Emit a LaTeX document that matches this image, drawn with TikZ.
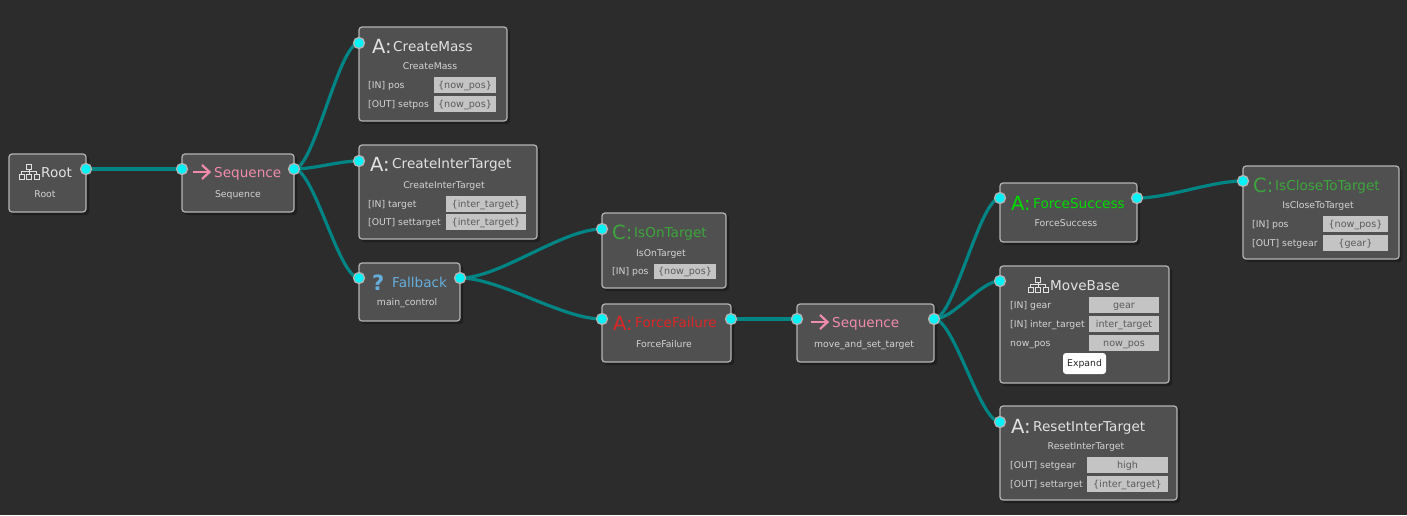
\documentclass[tikz,border=0pt]{standalone}
\usepackage{fontspec}
\setmainfont{DejaVu Sans}
\definecolor{bgc}{HTML}{2C2C2C}
\definecolor{boxc}{HTML}{505050}
\definecolor{edgec}{HTML}{B4B4B4}
\definecolor{wirec}{HTML}{008585}
\definecolor{portc}{HTML}{00F4F8}
\definecolor{txtc}{HTML}{E2E2E2}
\definecolor{subc}{HTML}{D4D4D4}
\definecolor{fldc}{HTML}{C4C4C4}
\definecolor{fldt}{HTML}{5A5A5A}
\definecolor{pinkc}{HTML}{F08CAB}
\definecolor{bluec}{HTML}{66AEDC}
\definecolor{condc}{HTML}{3CA63C}
\definecolor{redc}{HTML}{DC2626}
\definecolor{limec}{HTML}{00DC00}
\tikzset{
  x=1pt,y=-1pt,
  boxnode/.style={draw=edgec,fill=boxc,line width=1.2pt,rounded corners=3pt,inner sep=0pt},
  shadowbox/.style={fill=black,opacity=.28,rounded corners=3pt},
  portnode/.style={circle,draw=edgec,fill=portc,line width=1.3pt,minimum size=11pt,inner sep=0pt},
  wire/.style={draw=wirec,line width=3.2pt},
  ttl/.style={anchor=base west,inner sep=0pt,font=\fontsize{13.6}{16}\selectfont,text=txtc},
  big/.style={anchor=base west,inner sep=0pt,font=\fontsize{19.5}{21}\selectfont,text=txtc},
  subl/.style={anchor=base,inner sep=0pt,font=\fontsize{9.3}{11}\selectfont,text=subc},
  lab/.style={anchor=base west,inner sep=0pt,font=\fontsize{9.3}{11}\selectfont,text=subc},
  fldn/.style={fill=fldc,inner sep=0pt,font=\fontsize{9.6}{11}\selectfont,text=fldt,text height=8pt,text depth=1.5pt},
  btn/.style={fill=white,rounded corners=3pt,inner sep=0pt,font=\fontsize{9.3}{11}\selectfont,text=black!85,text height=8pt,text depth=1.5pt},
  icon/.style={draw=txtc,line width=.8pt},
  arrowic/.style={draw=pinkc,line width=2.2pt},
}
\newcommand{\bx}[5]{%
  \pgfmathsetmacro\mycx{(#2+#4)/2}\pgfmathsetmacro\mycy{(#3+#5)/2}%
  \pgfmathsetmacro\mybw{#4-#2}\pgfmathsetmacro\mybh{#5-#3}%
  \fill[shadowbox] (#2+2,#3+2) rectangle (#4+3,#5+3);
  \node[boxnode,minimum width=\mybw pt,minimum height=\mybh pt] (#1) at (\mycx,\mycy) {};
}
\newcommand{\fl}[6]{%
  \pgfmathsetmacro\mycx{(#2+#4)/2}\pgfmathsetmacro\mycy{(#3+#5)/2}%
  \pgfmathsetmacro\mybw{#4-#2}\pgfmathsetmacro\mybh{#5-#3}%
  \node[fldn,minimum width=\mybw pt,minimum height=\mybh pt] (#1) at (\mycx,\mycy) {#6};
}
\newcommand{\treeic}[2]{%
  \begin{scope}[shift={(#1,#2)}]
    \draw[icon] (8,0) rectangle (13,5);
    \draw[icon] (0.5,10) rectangle (5.5,15);
    \draw[icon] (8,10) rectangle (13,15);
    \draw[icon] (15.5,10) rectangle (20.5,15);
    \draw[icon] (10.5,5) -- (10.5,10) (3,10) -- (3,7.5) -- (18,7.5) -- (18,10);
  \end{scope}
}
\newcommand{\arrowicon}[2]{%
  \begin{scope}[shift={(#1,#2)}]
    \draw[arrowic] (0,0) -- (16,0);
    \draw[arrowic,line join=miter] (9,-7) -- (16.5,0) -- (9,7);
  \end{scope}
}
\begin{document}
\begin{tikzpicture}
\useasboundingbox (0,0) rectangle (1407,515);
\fill[bgc] (0,0) rectangle (1407,515);

% boxes
\bx{root}{9}{154}{86}{212}
\bx{seqa}{182}{154}{294}{212}
\bx{mass}{359}{27}{507}{121}
\bx{inter}{359}{145}{537}{239}
\bx{fall}{359}{263}{460}{321}
\bx{onta}{602}{213}{726}{288}
\bx{ffail}{602}{304}{731}{362}
\bx{seqb}{797}{304}{934}{362}
\bx{fsucc}{1000}{183}{1137}{242}
\bx{close}{1243}{166}{1399}{259}
\bx{move}{1000}{266}{1169}{383}
\bx{reset}{1000}{406}{1177}{500}

% ports
\coordinate (p1) at (86,169);
\coordinate (p2) at (182,169);
\coordinate (p3) at (294,169);
\coordinate (p4) at (359,43);
\coordinate (p5) at (359,161);
\coordinate (p6) at (359,278);
\coordinate (p7) at (460,278);
\coordinate (p8) at (602,229);
\coordinate (p9) at (602,319);
\coordinate (p10) at (731,319);
\coordinate (p11) at (797,319);
\coordinate (p12) at (934,319);
\coordinate (p13) at (1000,198);
\coordinate (p14) at (1137,198);
\coordinate (p15) at (1243,181);
\coordinate (p16) at (1000,281);
\coordinate (p17) at (1000,422);

% connectors
\draw[wire] (p1) -- (p2);
\draw[wire] (p3) .. controls +(20,0) and +(-20,0) .. (p4);
\draw[wire] (p3) .. controls +(20,0) and +(-20,0) .. (p5);
\draw[wire] (p3) .. controls +(20,0) and +(-20,0) .. (p6);
\draw[wire] (p7) .. controls +(40,0) and +(-40,0) .. (p8);
\draw[wire] (p7) .. controls +(40,0) and +(-40,0) .. (p9);
\draw[wire] (p10) -- (p11);
\draw[wire] (p12) .. controls +(20,0) and +(-20,0) .. (p13);
\draw[wire] (p12) .. controls +(20,0) and +(-20,0) .. (p16);
\draw[wire] (p12) .. controls +(20,0) and +(-20,0) .. (p17);
\draw[wire] (p14) .. controls +(32,0) and +(-32,0) .. (p15);

\foreach \n in {1,...,17} \node[portnode] (port\n) at (p\n) {};

% Root
\treeic{18.5}{164}
\node[ttl] (t1) at (41,177) {Root};
\node[subl] (s1) at (45,197) {Root};
% Sequence
\arrowicon{193}{172}
\node[ttl,text=pinkc] (t2) at (214,177) {Sequence};
\node[subl] (s2) at (238,197) {Sequence};
% CreateMass
\node[big] (i3) at (372,53) {A:};
\node[ttl] (t3) at (393,51) {CreateMass};
\node[subl] (s3) at (430,69) {CreateMass};
\node[lab] (l3a) at (368,88) {[IN] pos};
\node[lab] (l3b) at (368,107) {[OUT] setpos};
\fl{f3a}{434}{77}{496}{93}{\{now\_pos\}}
\fl{f3b}{434}{96}{496}{112}{\{now\_pos\}}
% CreateInterTarget
\node[big] (i4) at (370,171) {A:};
\node[ttl] (t4) at (392,168) {CreateInterTarget};
\node[subl] (s4) at (444,188) {CreateInterTarget};
\node[lab] (l4a) at (368,207) {[IN] target};
\node[lab] (l4b) at (368,225) {[OUT] settarget};
\fl{f4a}{446}{196}{526}{212}{\{inter\_target\}}
\fl{f4b}{446}{214}{526}{230}{\{inter\_target\}}
% Fallback
\node[big,text=bluec,font=\fontsize{21}{23}\selectfont\bfseries] (i5) at (372,290) {?};
\node[ttl,text=bluec] (t5) at (392,287) {Fallback};
\node[subl] (s5) at (407,305) {main\_control};
% IsOnTarget
\node[big,text=condc] (i6) at (612,239) {C:};
\node[ttl,text=condc] (t6) at (634,237) {IsOnTarget};
\node[subl] (s6) at (661,256) {IsOnTarget};
\node[lab] (l6a) at (612,274) {[IN] pos};
\fl{f6a}{654}{264}{716}{279}{\{now\_pos\}}
% ForceFailure
\node[big,text=redc] (i7) at (613,330) {A:};
\node[ttl,text=redc] (t7) at (635,327) {ForceFailure};
\node[subl] (s7) at (664,347) {ForceFailure};
% Sequence 2
\arrowicon{811}{322}
\node[ttl,text=pinkc] (t8) at (832,327) {Sequence};
\node[subl] (s8) at (864,347) {move\_and\_set\_target};
% ForceSuccess
\node[big,text=limec] (i9) at (1011,210) {A:};
\node[ttl,text=limec] (t9) at (1033,208) {ForceSuccess};
\node[subl] (s9) at (1066,226) {ForceSuccess};
% IsCloseToTarget
\node[big,text=condc] (i10) at (1253,192) {C:};
\node[ttl,text=condc] (t10) at (1275,190) {IsCloseToTarget};
\node[subl] (s10) at (1318,208) {IsCloseToTarget};
\node[lab] (l10a) at (1252,227) {[IN] pos};
\node[lab] (l10b) at (1252,246) {[OUT] setgear};
\fl{f10a}{1323}{216}{1388}{232}{\{now\_pos\}}
\fl{f10b}{1323}{235}{1388}{251}{\{gear\}}
% MoveBase
\treeic{1027.5}{277}
\node[ttl] (t11) at (1050,290) {MoveBase};
\node[lab] (l11a) at (1010,308) {[IN] gear};
\node[lab] (l11b) at (1010,327) {[IN] inter\_target};
\node[lab] (l11c) at (1010,346) {now\_pos};
\fl{f11a}{1089}{297}{1159}{313}{gear}
\fl{f11b}{1089}{316}{1159}{332}{inter\_target}
\fl{f11c}{1089}{335}{1159}{351}{now\_pos}
\node[btn,minimum width=43pt,minimum height=21pt] (exp) at (1084.5,363.5) {Expand};
% ResetInterTarget
\node[big] (i12) at (1011,433) {A:};
\node[ttl] (t12) at (1033,431) {ResetInterTarget};
\node[subl] (s12) at (1086,449) {ResetInterTarget};
\node[lab] (l12a) at (1010,468) {[OUT] setgear};
\node[lab] (l12b) at (1010,487) {[OUT] settarget};
\fl{f12a}{1087}{457}{1168}{473}{high}
\fl{f12b}{1087}{476}{1168}{492}{\{inter\_target\}}
\end{tikzpicture}
\end{document}
